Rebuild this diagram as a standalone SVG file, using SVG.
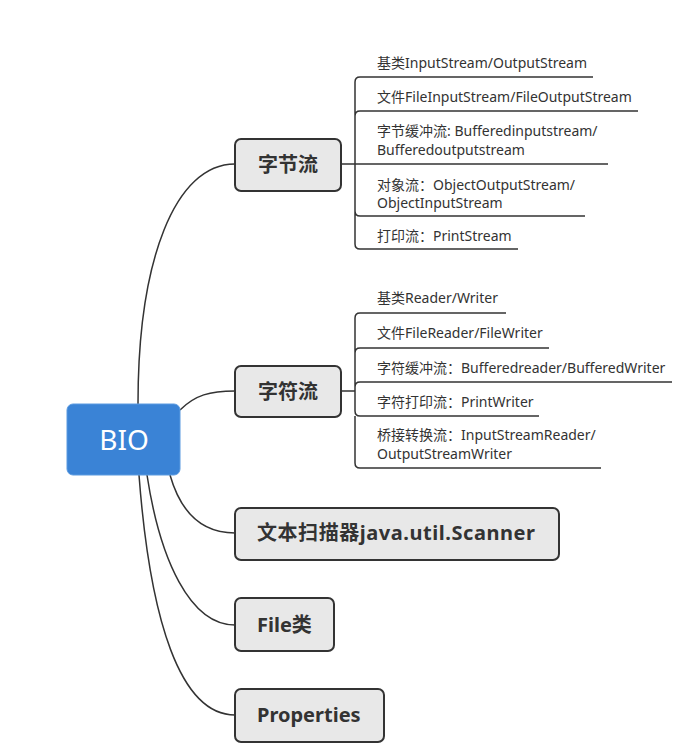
<svg xmlns="http://www.w3.org/2000/svg" width="698" height="756" viewBox="0 0 698 756">
<style>
.root{fill:#3a83d6;stroke:#5a9ae0;stroke-width:1}
.box{fill:#e8e8e8;stroke:#333;stroke-width:2}
.rt{font-family:"Noto Sans","Noto Sans CJK SC",sans-serif;font-size:28px;fill:#fff;text-anchor:middle}
.bt{font-family:"Noto Sans","Noto Sans CJK SC",sans-serif;font-size:20px;font-weight:bold;fill:#333}
.lt{font-family:"Noto Sans","Noto Sans CJK SC",sans-serif;font-size:14px;fill:#333}
.ln{fill:none;stroke:#333;stroke-width:1.5}
</style>
<rect width="698" height="756" fill="#fff"/>
<g id="connectors">
<path class="ln" d="M138,404 C138,260 175,164 235,164"/>
<path class="ln" d="M180,410 C195,395 210,391 235,391"/>
<path class="ln" d="M170,475 C180,510 200,533 235,533"/>
<path class="ln" d="M147,475 C160,560 190,625 235,625"/>
<path class="ln" d="M139,475 C150,620 180,715 235,715"/>
<path class="ln" d="M341,164 H593 M355,164 V82 Q355,77 360,77 H593 M355,116 Q355,111 360,111 H638 M355,164 H608 M355,164 V244 Q355,249 360,249 H518 M355,211 Q355,216 360,216 H585"/>
<path class="ln" d="M341,391 H355 V318 Q355,313 360,313 H506 M355,353 Q355,348 360,348 H549 M355,387 Q355,382 360,382 H672 M355,391 V411 Q355,416 360,416 H539 M355,416 V463 Q355,468 360,468 H601"/>
</g>
<g id="bio"><rect class="root" x="67" y="404" width="113" height="71" rx="6"/><text class="rt" x="124" y="450">BIO</text></g>
<g id="zijieliu"><rect class="box" x="235" y="139" width="106" height="52" rx="6"/><text class="bt" x="288" y="172" text-anchor="middle">字节流</text></g>
<g id="zifuliu"><rect class="box" x="235" y="366" width="106" height="51" rx="6"/><text class="bt" x="288" y="399" text-anchor="middle">字符流</text></g>
<g id="scanner"><rect class="box" x="235" y="508" width="324" height="52" rx="6"/><text class="bt" x="257" y="540" textLength="278" lengthAdjust="spacing">文本扫描器java.util.Scanner</text></g>
<g id="file"><rect class="box" x="235" y="598" width="99" height="53" rx="6"/><text class="bt" x="257" y="632">File类</text></g>
<g id="properties"><rect class="box" x="235" y="689" width="149" height="53" rx="6"/><text class="bt" x="257" y="722">Properties</text></g>
<g id="b1"><text class="lt" x="377" y="68">基类InputStream/OutputStream</text></g>
<g id="b2"><text class="lt" x="377" y="102">文件FileInputStream/FileOutputStream</text></g>
<g id="b3"><text class="lt" x="377" y="136">字节缓冲流: Bufferedinputstream/</text><text class="lt" x="377" y="155">Bufferedoutputstream</text></g>
<g id="b4"><text class="lt" x="377" y="190">对象流：ObjectOutputStream/</text><text class="lt" x="377" y="208">ObjectInputStream</text></g>
<g id="b5"><text class="lt" x="377" y="241">打印流：PrintStream</text></g>
<g id="c1"><text class="lt" x="377" y="303">基类Reader/Writer</text></g>
<g id="c2"><text class="lt" x="377" y="338">文件FileReader/FileWriter</text></g>
<g id="c3"><text class="lt" x="377" y="373">字符缓冲流：Bufferedreader/BufferedWriter</text></g>
<g id="c4"><text class="lt" x="377" y="407">字符打印流：PrintWriter</text></g>
<g id="c5"><text class="lt" x="377" y="440">桥接转换流：InputStreamReader/</text><text class="lt" x="377" y="459">OutputStreamWriter</text></g>
</svg>
